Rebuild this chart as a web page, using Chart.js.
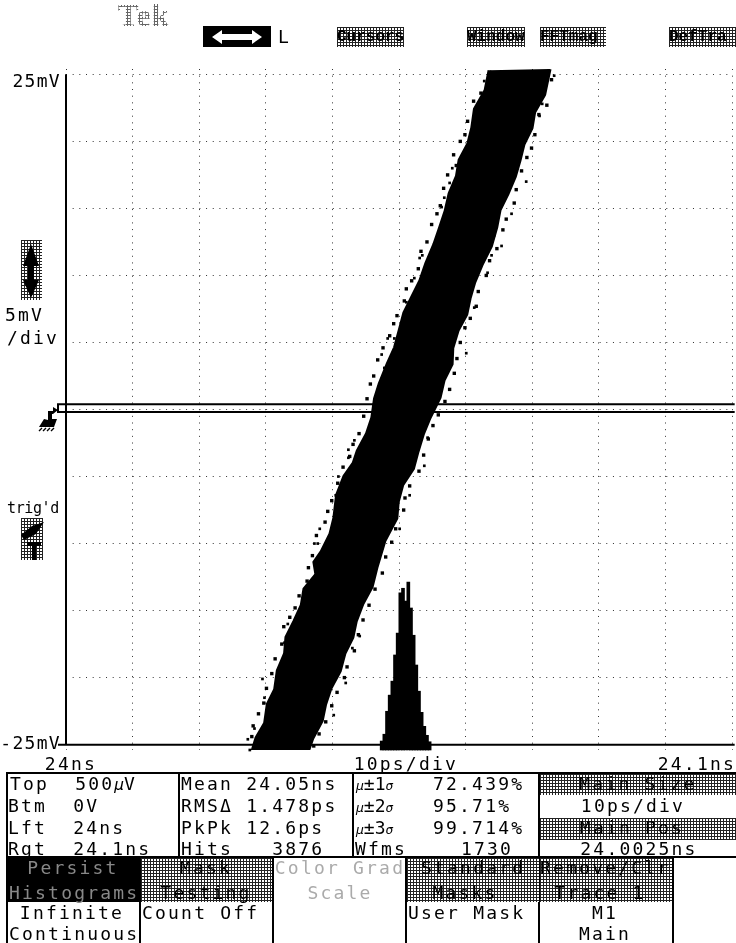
<!DOCTYPE html>
<html><head><meta charset="utf-8">
<script src="https://cdn.jsdelivr.net/npm/chart.js@4"></script>
<style>
html,body{margin:0;padding:0;background:#fff;overflow:hidden;width:736px;height:943px}
#c{position:absolute;left:0;top:0}
.t{position:absolute;font:18px/20px "DejaVu Sans Mono",monospace;letter-spacing:2.2px;color:#000;white-space:pre}
.c{transform:translateX(-50%)}
.b{position:absolute;background:#000}
.s{position:absolute;background-color:#fff;background-image:linear-gradient(90deg,#222 1px,transparent 1px),linear-gradient(#222 1px,transparent 1px);background-size:3px 3px}
.top{font:bold 16px/20px "Liberation Mono",monospace;letter-spacing:0}
.g{color:#aaa}
.sm{font-size:13px;font-style:italic;letter-spacing:0}
svg{position:absolute;left:0;top:0}
</style></head><body>
<canvas id="c" width="736" height="943"></canvas>
<!-- header -->
<div class="t" style="left:118px;top:0;font:bold 31px/31px 'Liberation Serif',serif;letter-spacing:1px;background-image:linear-gradient(90deg,#666 1px,transparent 1px),linear-gradient(#666 1px,transparent 1px);background-size:3px 3px;-webkit-background-clip:text;background-clip:text;color:transparent">Tek</div>
<div class="b" style="left:203px;top:26px;width:68px;height:21px"></div>
<div class="t" style="left:278px;top:27px">L</div>
<div class="s" style="left:337px;top:27px;width:67px;height:20px"></div>
<div class="s" style="left:467px;top:27px;width:58px;height:20px"></div>
<div class="s" style="left:540px;top:27px;width:66px;height:20px"></div>
<div class="s" style="left:669px;top:27px;width:67px;height:20px"></div>
<div class="t top" style="left:337px;top:27px">Cursors</div>
<div class="t top" style="left:467px;top:27px">Window</div>
<div class="t top" style="left:540px;top:27px">FFTmag</div>
<div class="t top" style="left:669px;top:27px">DefTra</div>
<!-- left side controls -->
<div class="s" style="left:21px;top:240px;width:21px;height:60px"></div>
<div class="t" style="left:5px;top:305px">5mV</div>
<div class="t" style="left:7px;top:328px">/div</div>
<div class="t" style="left:7px;top:498px;font-size:15px;letter-spacing:-.4px">trig'd</div>
<div class="s" style="left:21px;top:518px;width:22px;height:42px"></div>
<!-- measurement panel -->
<div class="b" style="left:6px;top:772px;width:730px;height:2px"></div>
<div class="b" style="left:6px;top:856px;width:730px;height:2px"></div>
<div class="b" style="left:6px;top:772px;width:2px;height:171px"></div>
<div class="b" style="left:178px;top:772px;width:2px;height:85px"></div>
<div class="b" style="left:352px;top:772px;width:2px;height:85px"></div>
<div class="b" style="left:538px;top:772px;width:2px;height:171px"></div>
<div class="s" style="left:540px;top:774px;width:196px;height:21px"></div>
<div class="s" style="left:540px;top:818px;width:196px;height:22px"></div>
<div class="t" style="left:10px;top:774px">Top  500<span class="sm" style="font-size:16px">µ</span>V</div>
<div class="t" style="left:8px;top:796px">Btm  0V</div>
<div class="t" style="left:8px;top:818px">Lft  24ns</div>
<div class="t" style="left:8px;top:839px">Rgt  24.1ns</div>
<div class="t" style="left:181px;top:774px">Mean 24.05ns</div>
<div class="t" style="left:181px;top:796px">RMS&#916; 1.478ps</div>
<div class="t" style="left:181px;top:818px">PkPk 12.6ps</div>
<div class="t" style="left:181px;top:839px">Hits   3876</div>
<div class="t" style="left:356px;top:774px;letter-spacing:0"><span class="sm">µ</span>±1<span class="sm">σ</span></div>
<div class="t" style="left:356px;top:796px;letter-spacing:0"><span class="sm">µ</span>±2<span class="sm">σ</span></div>
<div class="t" style="left:356px;top:818px;letter-spacing:0"><span class="sm">µ</span>±3<span class="sm">σ</span></div>
<div class="t" style="left:355px;top:839px">Wfms</div>
<div class="t" style="left:433px;top:774px">72.439%</div>
<div class="t" style="left:433px;top:796px">95.71%</div>
<div class="t" style="left:433px;top:818px">99.714%</div>
<div class="t" style="left:461px;top:839px">1730</div>
<div class="t c" style="left:638px;top:774px">Main Size</div>
<div class="t c" style="left:633px;top:796px">10ps/div</div>
<div class="t c" style="left:632px;top:818px">Main Pos</div>
<div class="t c" style="left:639px;top:839px">24.0025ns</div>
<!-- softkeys -->
<div class="b" style="left:8px;top:858px;width:132px;height:44px"></div>
<div class="s" style="left:141px;top:858px;width:132px;height:44px"></div>
<div class="s" style="left:407px;top:858px;width:132px;height:44px"></div>
<div class="s" style="left:540px;top:858px;width:133px;height:44px"></div>
<div class="b" style="left:139px;top:858px;width:2px;height:85px"></div>
<div class="b" style="left:272px;top:858px;width:2px;height:85px"></div>
<div class="b" style="left:405px;top:858px;width:2px;height:85px"></div>
<div class="b" style="left:672px;top:858px;width:2px;height:85px"></div>
<div class="t c" style="left:73px;top:858px;color:#888">Persist</div>
<div class="t" style="left:9px;top:883px;color:#888">Histograms</div>
<div class="t c" style="left:206px;top:858px">Mask</div>
<div class="t c" style="left:206px;top:883px">Testing</div>
<div class="t c g" style="left:340px;top:858px">Color Grad</div>
<div class="t c g" style="left:340px;top:883px">Scale</div>
<div class="t" style="left:421px;top:858px">Standard</div>
<div class="t c" style="left:465px;top:883px">Masks</div>
<div class="t" style="left:540px;top:858px">Remove/Clr</div>
<div class="t c" style="left:600px;top:883px">Trace 1</div>
<div class="t c" style="left:72px;top:903px">Infinite</div>
<div class="t" style="left:9px;top:924px">Continuous</div>
<div class="t" style="left:142px;top:903px">Count Off</div>
<div class="t" style="left:408px;top:903px">User Mask</div>
<div class="t c" style="left:605px;top:903px">M1</div>
<div class="t c" style="left:605px;top:924px">Main</div>
<!-- glyph icons -->
<svg width="736" height="943" viewBox="0 0 736 943">
  <path d="M212 37 L222 30 V34 H252 V30 L262 37 L252 44 V40 H222 V44 Z" fill="#fff"/>
  <path d="M31 244 L39 266 H34 V280 H39 L31 298 L23 280 H28 V266 H23 Z" fill="#000"/>
  <path d="M21 535 L32 526 L44 522 L36 534 L24 540 Z" fill="#000"/>
  <path d="M27 542 H41 V546 H36 V560 H32 V546 H27 Z" fill="#000"/>
  <path d="M48 420 V411 H53 V407 L58 410 L53 414 H52 V419 H57 L54 427 H39 L44 419 Z" fill="#000"/>
  <path d="M42 428 L39 431 M46 428 L43 431 M50 428 L47 431 M54 428 L51 431" stroke="#000" stroke-width="1.4"/>
</svg>
<script>
/* scale ends */
const timeTicksPs = [0, 50, 100];
const timeTickLabels = ["24ns", "10ps/div", "24.1ns"];
const voltTicksMv = [25, -25];
const voltTickLabels = ["25mV", "-25mV"];
const voltGridMv = [-25,-20,-15,-10,-5,0,5,10,15,20,25];

/* edges of the dense persistence band */
const bandLeftMv  = [-25.5,-24.5,-23.4,-22,-20.9,-19.5,-18.2,-17,-15.8,-14.6,-13.4,-12.3,-11.4,-10.6,-9.3,-8.1,-6.4,-5,-4,-3.1,-1.8,-0.6,0.8,1.9,3.4,4.6,5.9,7.2,8.4,9.6,10.9,12.3,13.6,14.8,16.1,17.4,18.6,19.8,21,22.4,23.8,25.3];
const bandLeftPs  = [28,28.6,29.9,30.3,31.4,31.8,32.9,33.1,34.3,35.4,35.8,37.6,37.3,38.4,39.7,40.3,40.7,41.8,43.2,43.8,45.2,46,46.4,47.1,48.3,49.4,50.1,50.8,52,53.2,54.1,55.3,56.2,57,57.6,58.7,59.1,60.4,61,61.4,63,63.6];
const bandRightMv = [-25.5,-24.5,-23.2,-22,-20.8,-19.5,-18.2,-17,-15.8,-14.5,-13.2,-11.8,-9.8,-8.1,-6.9,-5.6,-4.4,-3.1,-1.8,-0.6,0.9,2.2,3.4,4.6,5.9,7.1,8.3,9.5,10.8,12.2,13.6,14.9,16.1,17.4,18.6,19.8,21,22.2,23.5,25.4];
const bandRightPs = [36.3,37,38.4,38.9,39.7,41.1,41.8,43,43.5,44.5,45.9,46.6,47.8,49.6,49.8,50.5,52.1,52.8,53.6,54.6,56.1,56.7,57.9,58,58.8,60.1,60.6,61.3,62.4,63.8,64.6,65.1,66.3,67.4,68.1,68.7,69.9,70.3,71.8,72.6];

/* stray hits outside the dense band */
const strayPs = [73.3,58,57.6,69.1,71.5,62.8,56.8,56.4,71.1,66.9,62.1,53.1,65.4,64.3,51.1,61.3,49.3,48.3,47.4,47.8,52.3,53.5,63.9,63.3,60.1,43.3,42.4,53.8,51.6,40.5,38.1,37.3,37.8,50.1,54.3,40.9,42.4,33.3,29.5,29.8,27.3,27.6,43,44.1,42,40.2,32.8,28.3,38.5];
const strayMv = [24.9,18,16.9,17,22.8,24.5,15.8,15.1,21.9,14.6,22.2,11.3,12.2,13,8,7.6,5.3,5.3,4.1,3.1,9.8,11.5,11.5,10.2,4.2,-2.3,-3,-4.2,-6.4,-6.4,-8.9,-10,-10,-8.9,-2.1,-5,-3.6,-16,-20.1,-21.5,-24.6,-25.4,-17.8,-16.9,-20.4,-22.8,-17.4,-23.8,-22.8];
/* hits fringing the band edges */
const fringeLeftPs = [62.3,61.2,60.3,59.9,59.2,58.2,58.6,57.3,56.7,56.2,55.7,54.9,54.2,53.3,52.9,51.9,51.1,50.8,49.7,49.2,48.6,47.6,46.8,46.2,45.7,45.2,44.7,44,43.1,42.6,41.6,40.8,39.9,39.3,38.9,37.6,37,36.4,36.2,35,34.4,33.6,32.7,32.4,31.4,30.9,30.1,29.7,28.9,28.1,27.9];
const fringeLeftMv = [23.6,23,21.5,20.5,20,19,18.2,17.5,16.5,15.2,14.6,13.8,12.5,11.8,10.5,9.6,9,8.1,7,6.4,5.5,4.6,3.7,2.5,1.9,0.8,-0.5,-1.8,-2.6,-3.5,-4.3,-5.5,-6.8,-7.6,-8.4,-9.4,-10.9,-11.8,-12.8,-13.9,-14.8,-15.5,-16.2,-17.5,-18.6,-19.7,-20.8,-21.9,-22.7,-23.6,-24.4];
const fringeRightPs = [72.9,72.2,71,70.4,69.9,69.2,68.4,67.6,67.3,66.1,65.6,64.7,63.6,63.1,61.9,61.6,60.7,59.9,59.2,58.7,58.3,57.6,56.9,55.9,55.1,54.4,53.7,53,51.6,50.9,50.7,49.5,48.9,48,47.5,46.4,45.5,44.6,43.9,43.3,42.2,41.8,40.7,39.9,39,38,37.2];
const fringeRightMv = [24.6,22.7,22,20.5,19.5,18.8,17.8,16.4,15.4,14.2,13.4,12,11.1,10,8.8,7.7,6.8,6.1,5,3.8,2.7,1.5,0.6,-0.4,-1.2,-2.2,-3.4,-4.6,-5.7,-6.6,-7.5,-8.9,-9.9,-11,-12.2,-13.4,-14.6,-15.7,-16.8,-18,-19.2,-20,-21.1,-22.1,-23.3,-24.2,-25.1];

/* timing histogram */
const histBinPs = [47.4,47.8,48.2,48.6,49,49.4,49.8,50.2,50.6,51,51.4,51.8,52.2,52.6,53,53.4,53.8,54.2,54.6];
const histHits  = [6,25,89,134,173,246,307,419,432,396,449,377,301,218,145,86,47,22,4];

/* histogram box and axes */
const boxPs = [100.4,-1.2,-1.2,100.4];
const boxMv = [0.4,0.4,-0.18,-0.18];
const basePs = [-1.2,100.4];
const baseMv = [-25,-25];
const leftPs = [0,0];
const leftMv = [-25,25];

const xy = (xs, ys) => xs.map((x, i) => ({x, y: ys[i]}));
const mono = '"DejaVu Sans Mono", monospace';

const tickLabelPlugin = {
  id: 'tickLabels',
  afterDraw(chart) {
    const {ctx, scales} = chart;
    ctx.save();
    ctx.fillStyle = '#000';
    ctx.font = '18px ' + mono;
    ctx.letterSpacing = '2.2px';
    ctx.textBaseline = 'middle';
    const timeX = [97, 458, 736];
    ctx.textAlign = 'right';
    timeTicksPs.forEach((t, i) => {
      ctx.fillText(timeTickLabels[i], timeX[i], scales.y.getPixelForValue(-25) + 21);
    });
    ctx.letterSpacing = '1.3px';
    voltTicksMv.forEach((v, i) => {
      const dy = v > 0 ? 8 : 0;
      ctx.fillText(voltTickLabels[i], scales.x.getPixelForValue(0) - 5, scales.y.getPixelForValue(v) + dy);
    });
    ctx.restore();
  }
};

new Chart(document.getElementById('c'), {
  data: {
    datasets: [
      {type:'line', label:'box', data:xy(boxPs, boxMv), borderColor:'#000', borderWidth:2, pointRadius:0, clip:false, tension:0},
      {type:'line', label:'base', data:xy(basePs, baseMv), borderColor:'#000', borderWidth:2, pointRadius:0, clip:false},
      {type:'line', label:'left', data:xy(leftPs, leftMv), borderColor:'#000', borderWidth:2, pointRadius:0, clip:false},
      {type:'line', label:'band left', indexAxis:'y', data:xy(bandLeftPs, bandLeftMv), borderColor:'#000', borderWidth:4, pointRadius:0, fill:false},
      {type:'line', label:'band right', indexAxis:'y', data:xy(bandRightPs, bandRightMv), borderColor:'#000', borderWidth:4, pointRadius:0, fill:'-1', backgroundColor:'#000'},
      {type:'scatter', label:'stray', data:xy(strayPs, strayMv), pointStyle:'rect', pointRadius:1.9, pointBorderWidth:0, backgroundColor:'#000', clip:false},
      {type:'scatter', label:'fringe left', data:xy(fringeLeftPs, fringeLeftMv), pointStyle:'rect', pointRadius:2.4, pointBorderWidth:0, backgroundColor:'#000', clip:false},
      {type:'scatter', label:'fringe right', data:xy(fringeRightPs, fringeRightMv), pointStyle:'rect', pointRadius:2.4, pointBorderWidth:0, backgroundColor:'#000', clip:false},
      {type:'bar', label:'hist', yAxisID:'hits', data:histBinPs.map((t,i)=>({x:t, y:[-19, histHits[i]]})), backgroundColor:'#000', barThickness:3, clip:false}
    ]
  },
  options: {
    responsive:false, animation:false, events:[],
    parsing:{xAxisKey:'x', yAxisKey:'y'},
    layout:{padding:{left:66, right:3, top:69, bottom:193}},
    plugins:{legend:{display:false}, tooltip:{enabled:false}},
    scales:{
      x:{type:'linear', offset:false, min:0, max:100, ticks:{display:false, stepSize:10}, grid:{offset:false, color:'#333', lineWidth:1, drawTicks:false}, border:{display:false, dash:[1,5.67]}},
      y:{type:'linear', min:-25.4, max:25.4,
         afterBuildTicks(s){ s.ticks = voltGridMv.map(value => ({value})); },
         ticks:{display:false}, grid:{color:'#333', lineWidth:1, drawTicks:false}, border:{display:false, dash:[1,5.67]}},
      hits:{type:'linear', display:false, min:-19, max:1880}
    }
  },
  plugins:[tickLabelPlugin]
});
</script>
</body></html>
